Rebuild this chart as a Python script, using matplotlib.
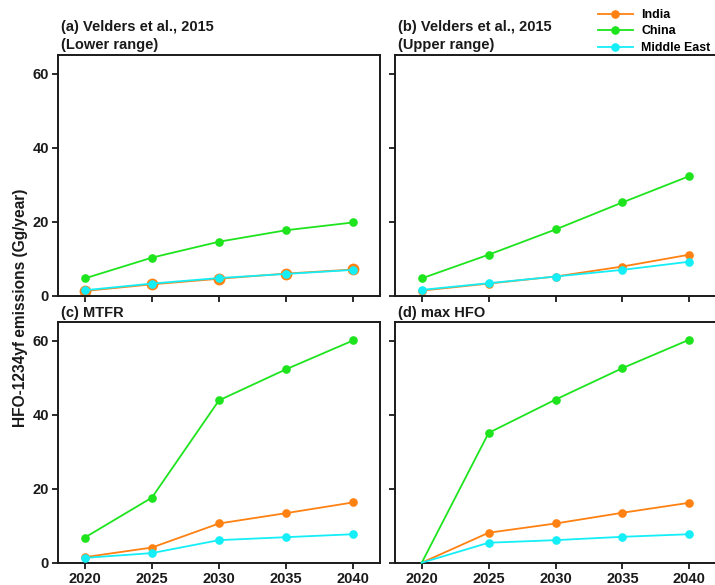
import matplotlib
matplotlib.use("Agg")
import matplotlib.pyplot as plt
from matplotlib.lines import Line2D

plt.rcParams['font.family'] = ['Liberation Sans', 'DejaVu Sans']
plt.rcParams['font.weight'] = 'bold'

years = [2020, 2025, 2030, 2035, 2040]
regions = ["India", "China", "Middle East"]
colors = {"India": "#ff8112", "China": "#1ee41e", "Middle East": "#14eef6"}

titles = [
    "(a) Velders et al., 2015\n(Lower range)",
    "(b) Velders et al., 2015\n(Upper range)",
    "(c) MTFR",
    "(d) max HFO",
]

india_a = [1.3, 3.1, 4.6, 6.0, 7.1]
china_a = [4.7, 10.3, 14.6, 17.7, 19.8]
mideast_a = [1.5, 3.3, 4.8, 5.9, 7.0]

india_b = [1.4, 3.3, 5.2, 7.9, 11.1]
china_b = [4.7, 11.1, 17.9, 25.2, 32.3]
mideast_b = [1.6, 3.4, 5.2, 7.0, 9.2]

india_c = [1.5, 4.1, 10.6, 13.4, 16.3]
china_c = [6.8, 17.6, 43.9, 52.3, 60.1]
mideast_c = [1.3, 2.6, 6.1, 6.9, 7.7]

india_d = [0.0, 8.1, 10.6, 13.5, 16.2]
china_d = [0.0, 35.1, 44.1, 52.6, 60.3]
mideast_d = [0.0, 5.4, 6.1, 7.0, 7.7]

panels = [
    {"India": india_a, "China": china_a, "Middle East": mideast_a},
    {"India": india_b, "China": china_b, "Middle East": mideast_b},
    {"India": india_c, "China": china_c, "Middle East": mideast_c},
    {"India": india_d, "China": china_d, "Middle East": mideast_d},
]

W, H = 715, 585
fig = plt.figure(figsize=(W / 100, H / 100), dpi=100)

def box(l, r, t, b):
    return [l / W, 1 - b / H, (r - l) / W, (b - t) / H]

rects = [
    box(58, 380, 55, 295.8),
    box(395, 716, 55, 295.8),
    box(58, 380, 322.3, 562.7),
    box(395, 716, 322.3, 562.7),
]

for i, (rect, title, data) in enumerate(zip(rects, titles, panels)):
    ax = fig.add_axes(rect)
    for name in regions:
        ms = 5.2
        if i == 0 and name == "India":
            ms = 7.5
        markevery = slice(1, None) if i == 3 else None
        ax.plot(years, data[name], color=colors[name], lw=1.3, marker='o',
                ms=ms, markevery=markevery, clip_on=False,
                zorder=3 if name != "India" else 2)
    ax.set_xlim(2018, 2042)
    ax.set_ylim(0, 65)
    ax.set_xticks(years)
    ax.set_yticks([0, 20, 40, 60])
    for s in ax.spines.values():
        s.set_linewidth(1.4)
        s.set_color('#1a1a1a')
    ax.tick_params(direction='out', length=4.5, width=1.3, colors='#1a1a1a',
                   labelsize=10.5, pad=2)
    if i < 2:
        ax.set_xticklabels([])
    else:
        for lab in ax.get_xticklabels():
            lab.set_fontweight('bold')
    if i % 2 == 1:
        ax.set_yticklabels([])
    else:
        for lab in ax.get_yticklabels():
            lab.set_fontweight('bold')
    ax.annotate(title, xy=(0, 1), xycoords='axes fraction', xytext=(2, 2),
                textcoords='offset points', ha='left', va='bottom',
                fontsize=10.5, fontweight='bold', color='#1a1a1a',
                linespacing=1.35)

fig.text(21 / W, 1 - 308 / H, "HFO-1234yf emissions (Gg/year)", rotation=90,
         ha='center', va='center', fontsize=11.2, fontweight='bold',
         color='#1a1a1a')

handles = [Line2D([], [], color=colors[n], lw=1.3, marker='o', ms=5.2)
           for n in regions]
fig.legend(handles, regions, loc='upper left',
           bbox_to_anchor=(598 / W, 1 - 9 / H), frameon=False,
           handlelength=2.8, handletextpad=0.7,
           labelspacing=0.36, borderpad=0, borderaxespad=0,
           prop={'weight': 'bold', 'size': 8.9})

fig.savefig("out.png", dpi=100)
